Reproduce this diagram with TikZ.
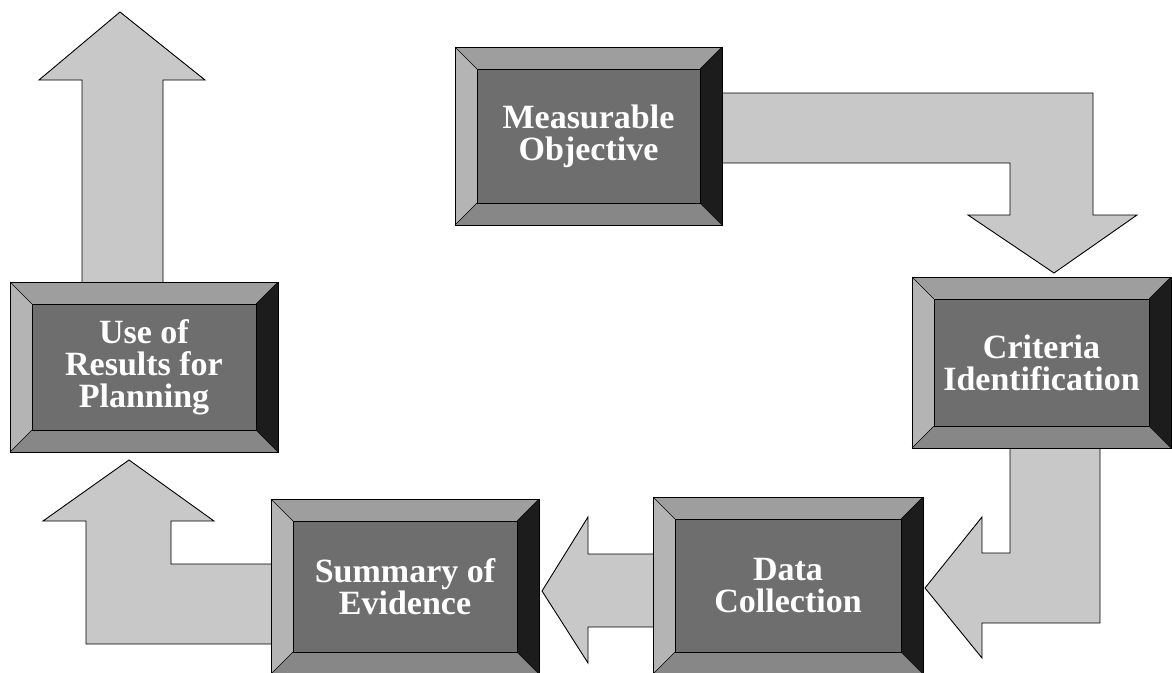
\documentclass[tikz,border=0pt]{standalone}
\usepackage{fontspec}
\setmainfont{Liberation Serif}
\definecolor{arrowgray}{HTML}{C8C8C8}
\definecolor{bevleft}{HTML}{B4B4B4}
\definecolor{bevtop}{HTML}{9E9E9E}
\definecolor{bevright}{HTML}{1C1C1C}
\definecolor{bevbottom}{HTML}{878787}
\definecolor{facegray}{HTML}{6E6E6E}
\tikzset{
  blockarrow/.style={fill=arrowgray, draw=black, line width=0.9pt, line join=miter},
  bevelline/.style={draw=black, line width=0.6pt},
  facebox/.style={fill=facegray, draw=black, line width=0.6pt, text=white,
    font=\bfseries\fontsize{34}{32}\selectfont, align=center, inner sep=0pt},
}
% #1 name, #2 x1, #3 y1, #4 x2, #5 y2, #6 text
\newcommand\bevelbox[6]{%
  \fill[bevtop] (#2,#3) -- (#4,#3) -- (#4-22,#3+22) -- (#2+22,#3+22) -- cycle;
  \fill[bevleft] (#2,#3) -- (#2+22,#3+22) -- (#2+22,#5-22) -- (#2,#5) -- cycle;
  \fill[bevright] (#4,#3) -- (#4,#5) -- (#4-22,#5-22) -- (#4-22,#3+22) -- cycle;
  \fill[bevbottom] (#2,#5) -- (#2+22,#5-22) -- (#4-22,#5-22) -- (#4,#5) -- cycle;
  \draw[bevelline] (#2,#3) rectangle (#4,#5);
  \draw[bevelline] (#2,#3) -- (#2+22,#3+22) (#4,#3) -- (#4-22,#3+22)
                   (#2,#5) -- (#2+22,#5-22) (#4,#5) -- (#4-22,#5-22);
  \node[facebox, minimum width=#4pt-#2pt-44pt, minimum height=#5pt-#3pt-44pt]
       (#1) at ({(#2+#4)/2},{(#3+#5)/2}) {#6};
}
\begin{document}
\begin{tikzpicture}[x=1pt, y=-1pt]
\useasboundingbox (0,0) rectangle (1172,672);
% arrows (behind boxes)
\draw[blockarrow] (700,93) -- (1093,93) -- (1093,215) -- (1137,215) -- (1054,273)
   -- (968,215) -- (1010,215) -- (1010,163) -- (700,163) -- cycle;
\draw[blockarrow] (1010,440) -- (1100,440) -- (1100,623) -- (982,623) -- (982,658)
   -- (925,588) -- (982,517) -- (982,553) -- (1010,553) -- cycle;
\draw[blockarrow] (660,554) -- (588,554) -- (588,517) -- (542,591) -- (588,663)
   -- (588,627) -- (660,627) -- cycle;
\draw[blockarrow] (285,564) -- (171,564) -- (171,521) -- (214,521) -- (129,460)
   -- (43,521) -- (86,521) -- (86,644) -- (285,644) -- cycle;
\draw[blockarrow] (82,290) -- (82,80) -- (39,80) -- (120,12) -- (205,80)
   -- (163,80) -- (163,290) -- cycle;
% boxes
\bevelbox{objective}{455}{47}{722}{225}{Measurable\\Objective}
\bevelbox{criteria}{912}{277}{1171}{448}{Criteria\\Identification}
\bevelbox{data}{653}{497}{923}{674}{Data\\Collection}
\bevelbox{summary}{271}{499}{539}{674}{Summary of\\Evidence}
\bevelbox{useof}{10}{282}{278}{452}{Use of\\Results for\\Planning}
\end{tikzpicture}
\end{document}
